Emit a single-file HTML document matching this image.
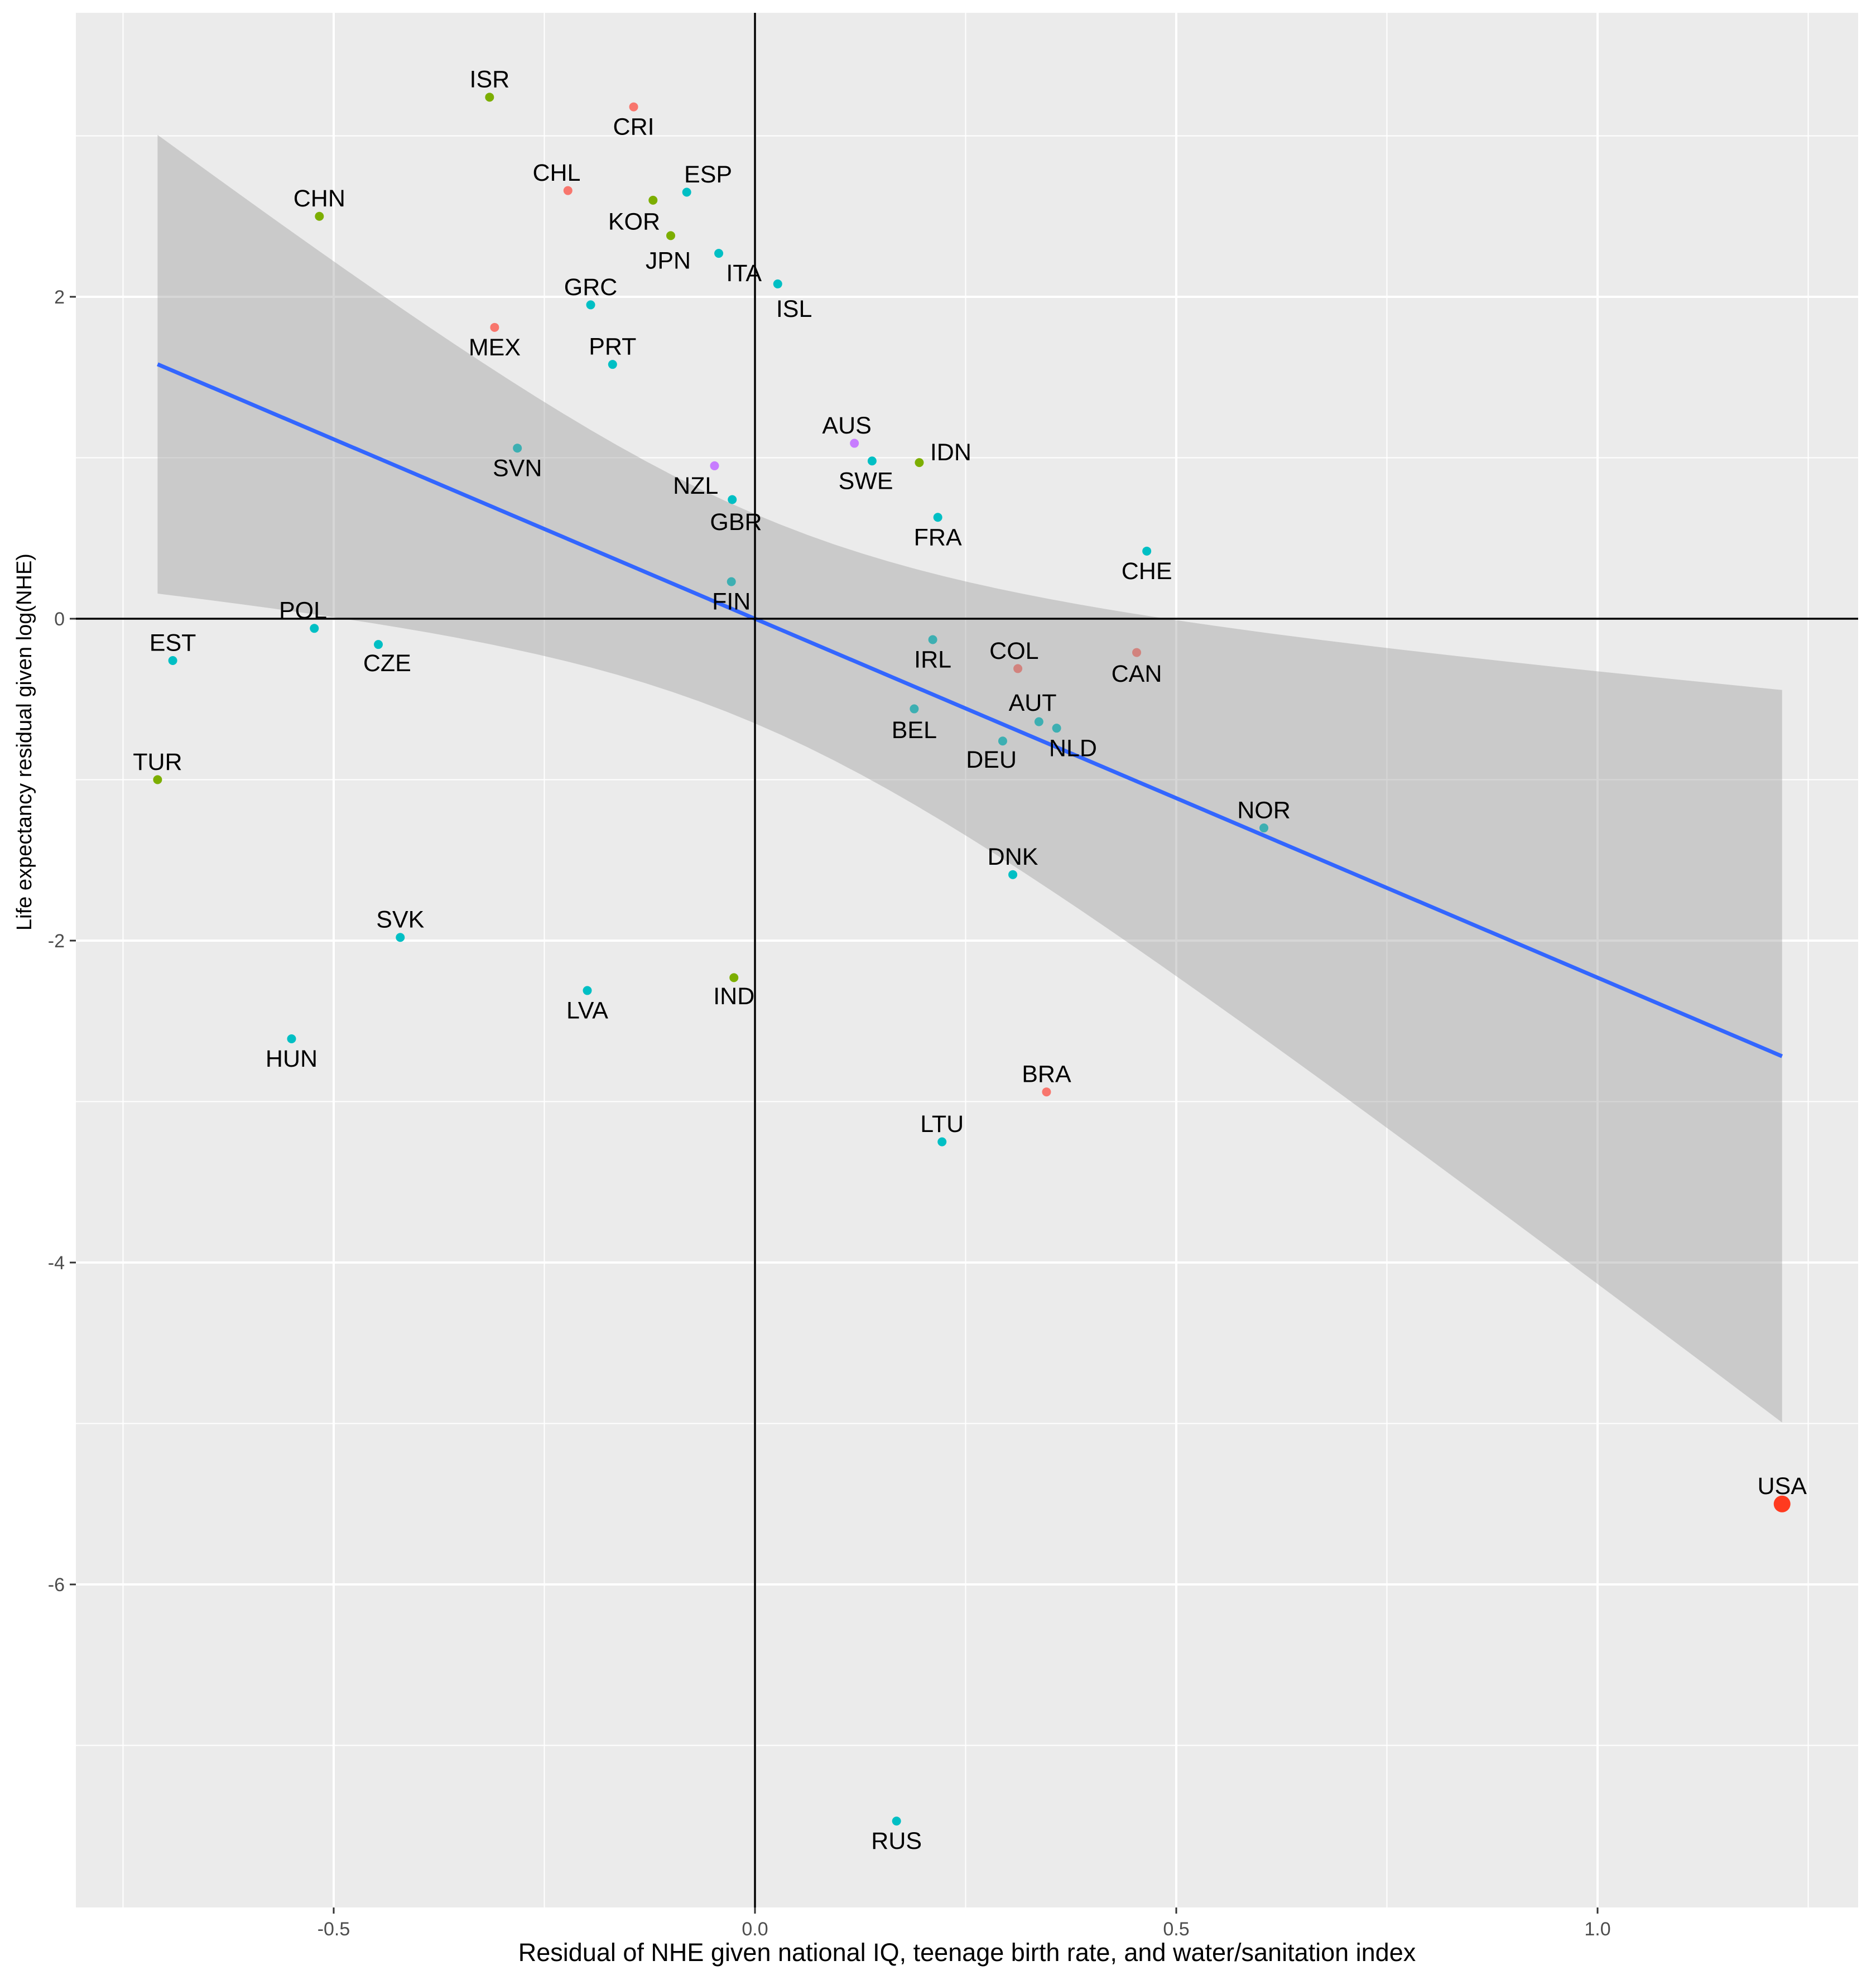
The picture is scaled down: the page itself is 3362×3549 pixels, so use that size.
<!DOCTYPE html>
<html><head><meta charset="utf-8">
<style>
html,body{margin:0;padding:0;background:#fff;}
svg{display:block;font-family:"Liberation Sans",Arial,sans-serif;}
</style></head>
<body>
<svg id="chart" width="3362" height="3549" viewBox="0 0 3362 3549" xmlns="http://www.w3.org/2000/svg">
<rect x="136" y="23" width="3194" height="3396" fill="#ebebeb"/>
<g id="grid"></g>
<g id="points"></g>
<g id="smooth"></g>
<g id="labels"></g>
<g id="axes"></g>
<text x="1733" y="3515" font-size="45" text-anchor="middle" fill="#000">Residual of NHE given national IQ, teenage birth rate, and water/sanitation index</text>
<text transform="translate(56,1330) rotate(-90)" font-size="38" text-anchor="middle" fill="#000">Life expectancy residual given log(NHE)</text>
</svg>
<script>
const countries=["ISR","CRI","CHL","ESP","KOR","CHN","JPN","ITA","ISL","GRC","MEX","PRT","AUS","SVN","SWE","IDN","NZL","GBR","FRA","CHE","FIN","POL","IRL","CZE","CAN","EST","COL","BEL","AUT","NLD","DEU","TUR","NOR","DNK","SVK","LVA","IND","HUN","BRA","LTU","USA","RUS"];
const xValues=[-0.315,-0.144,-0.222,-0.081,-0.121,-0.517,-0.100,-0.043,0.027,-0.195,-0.309,-0.169,0.118,-0.282,0.139,0.195,-0.048,-0.027,0.217,0.465,-0.028,-0.523,0.211,-0.447,0.453,-0.691,0.312,0.189,0.337,0.358,0.294,-0.709,0.604,0.306,-0.421,-0.199,-0.025,-0.550,0.346,0.222,1.219,0.168];
const yValues=[3.24,3.18,2.66,2.65,2.60,2.50,2.38,2.27,2.08,1.95,1.81,1.58,1.09,1.06,0.98,0.97,0.95,0.74,0.63,0.42,0.23,-0.06,-0.13,-0.16,-0.21,-0.26,-0.31,-0.56,-0.64,-0.68,-0.76,-1.00,-1.30,-1.59,-1.98,-2.31,-2.23,-2.61,-2.94,-3.25,-5.50,-7.47];
const groups=["b","a","a","c","b","b","b","c","c","c","a","c","d","c","c","b","d","c","c","c","c","c","c","c","a","c","a","c","c","c","c","b","c","c","c","c","b","c","a","c","u","c"];
const labelDX=[0,0,-9,17,-15,0,-2,20,13,0,0,0,-6,0,-5,25,-15,3,0,0,0,-9,0,7,0,0,-3,0,-5,13,-9,0,0,0,0,0,0,0,0,0,0,0];
const labelDY=[-14,16,-14,-14,17,-14,20,16,20,-14,16,-14,-14,16,16,-8,16,18,16,16,16,-14,16,15,17,-14,-14,17,-15,16,15,-14,-14,-14,-14,16,15,16,-14,-14,-14,16];
const xTicks=[-0.5,0,0.5,1.0];
const xTickLabels=["-0.5","0.0","0.5","1.0"];
const xMinor=[-0.75,-0.25,0.25,0.75,1.25];
const yTicks=[2,0,-2,-4,-6];
const yTickLabels=["2","0","-2","-4","-6"];
const yMinor=[3,1,-1,-3,-5,-7];
const fitSlope=[-2.23];
const fitIntercept=[0.0];
const fitRange=[-0.709,1.219];
const seA=[0.4225];
const seB=[3.2];

const NS="http://www.w3.org/2000/svg";
const X=v=>1353+v*1510;
const Y=v=>1109-v*288.5;
const L=136,R=3330,T=23,B=3419,S=2.256;
const colors={a:"#F8766D",b:"#7CAE00",c:"#00BFC4",d:"#C77CFF",u:"#FF3A1F"};
function mk(tag,attrs,parent){const e=document.createElementNS(NS,tag);for(const k in attrs)e.setAttribute(k,attrs[k]);parent.appendChild(e);return e;}

const grid=document.getElementById('grid');
xMinor.forEach(v=>{const e=mk('line',{x1:X(v),x2:X(v),y1:T,y2:B,stroke:"#fff","stroke-width":2},grid);

});
yMinor.forEach(v=>{const e=mk('line',{x1:L,x2:R,y1:Y(v),y2:Y(v),stroke:"#fff","stroke-width":2},grid);

});
xTicks.forEach(v=>{const e=mk('line',{x1:X(v),x2:X(v),y1:T,y2:B,stroke:"#fff","stroke-width":4},grid);

});
yTicks.forEach(v=>{const e=mk('line',{x1:L,x2:R,y1:Y(v),y2:Y(v),stroke:"#fff","stroke-width":4},grid);

});

const pts=document.getElementById('points');
countries.forEach((c,i)=>{const isU=groups[i]==="u";
const e=mk('circle',{cx:X(xValues[i]),cy:Y(yValues[i]),r:isU?15:8,fill:colors[groups[i]]},pts);

});

const sm=document.getElementById('smooth');
const n=60;let up=[],lo=[];
for(let k=0;k<=n;k++){const x=fitRange[0]+(fitRange[1]-fitRange[0])*k/n;const f=fitIntercept[0]+fitSlope[0]*x;const hw=Math.sqrt(seA[0]+seB[0]*x*x);
up.push(X(x)+","+Y(f+hw));lo.unshift(X(x)+","+Y(f-hw));}
const rib=mk('polygon',{points:up.concat(lo).join(" "),fill:"#999999","fill-opacity":0.4},sm);


const fl=mk('line',{x1:X(fitRange[0]),y1:Y(fitIntercept[0]+fitSlope[0]*fitRange[0]),x2:X(fitRange[1]),y2:Y(fitIntercept[0]+fitSlope[0]*fitRange[1]),stroke:"#3366FF","stroke-width":7},sm);



const lb=document.getElementById('labels');
countries.forEach((c,i)=>{const e=mk('text',{x:X(xValues[i])+labelDX[i]*S,y:Y(yValues[i])+labelDY[i]*S,"font-size":43,"text-anchor":"middle","dominant-baseline":"central",fill:"#000"},lb);
e.textContent=c;

});

const ax=document.getElementById('axes');
const hz=mk('line',{x1:L,x2:R,y1:Y(0),y2:Y(0),stroke:"#000","stroke-width":3.5},ax);


const vz=mk('line',{x1:X(0),x2:X(0),y1:T,y2:B,stroke:"#000","stroke-width":3.5},ax);


xTicks.forEach((v,i)=>{const t=mk('line',{x1:X(v),x2:X(v),y1:B,y2:B+11,stroke:"#333","stroke-width":3},ax);


const e=mk('text',{x:X(v),y:B+50,"font-size":34,"text-anchor":"middle",fill:"#4d4d4d"},ax);e.textContent=xTickLabels[i];

});
yTicks.forEach((v,i)=>{const t=mk('line',{x1:L-11,x2:L,y1:Y(v),y2:Y(v),stroke:"#333","stroke-width":3},ax);


const e=mk('text',{x:L-20,y:Y(v)+12,"font-size":34,"text-anchor":"end",fill:"#4d4d4d"},ax);e.textContent=yTickLabels[i];

});
</script>
</body></html>
